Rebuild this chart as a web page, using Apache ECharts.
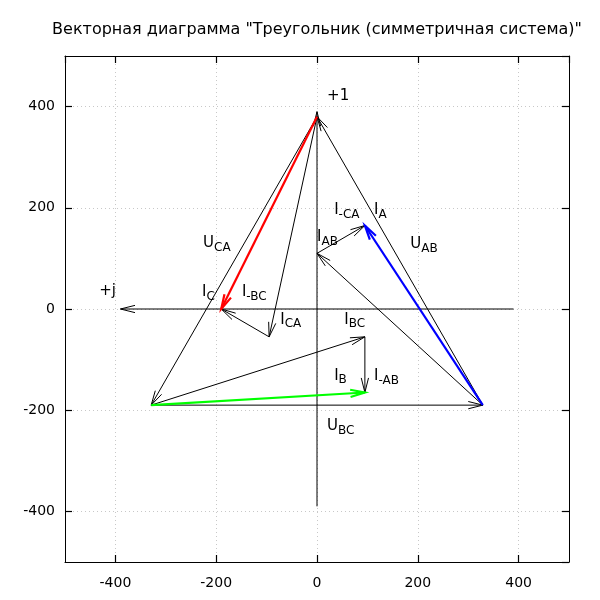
<!DOCTYPE html>
<html>
<head>
<meta charset="utf-8">
<script src="https://cdn.jsdelivr.net/npm/echarts@6/dist/echarts.min.js"></script>
<style>html,body{margin:0;padding:0;background:#fff;}#c{width:600px;height:600px;}</style>
</head>
<body>
<div id="c"></div>
<script>
// Vectors: name, start (x,y), end (x,y)
const vecNames  = ['+1',  '+j',  'U_AB', 'U_CA', 'U_BC', 'I_AB', 'I_-CA', 'I_A', 'I_CA', 'I_-BC', 'I_C', 'I_BC', 'I_-AB', 'I_B'];
const vecStartX = [0,     390,   329,    0,      -329,   329,    0,       329,   0,      -95,     0,     -329,   95,      -329];
const vecStartY = [-390,  0,     -190,   380,    -190,   -190,   110,     -190,  380,    -55,     380,   -190,   -55,     -190];
const vecEndX   = [0,     -390,  0,      -329,   329,    0,      95,      95,    -95,    -190,    -190,  95,     95,      95];
const vecEndY   = [390,   0,     380,    -190,   -190,   110,    165,     165,   -55,    0,       0,     -55,    -165,    -165];

// Labels: main letter, subscript, anchor (x,y)
const labelMain = ['+1', '+j', 'U',  'U',  'U',  'I',  'I',   'I',  'I',  'I',   'I',  'I',  'I',   'I'];
const labelSub  = ['',   '',   'AB', 'CA', 'BC', 'AB', '-CA', 'A',  'CA', '-BC', 'C',  'BC', '-AB', 'B'];
const labelX    = [20,   -432, 185,  -226, 20,   0,    34,    113,  -73,  -149,  -228, 54,   113,   34];
const labelY    = [421,  35,   128,  130,  -232, 142,  195,   195,  -21,  33,    33,   -21,  -133,  -132];

const tickValues = [-400, -200, 0, 200, 400];

const colorMap = { 'I_A': '#0000ff', 'I_B': '#00ff00', 'I_C': '#ff0000' };

const vecData = vecNames.map((n, i) => [vecStartX[i], vecStartY[i], vecEndX[i], vecEndY[i], n]);
const labelData = labelMain.map((m, i) => [labelX[i], labelY[i], m, labelSub[i]]);

const FONT = 'DejaVu Sans';

function renderArrow(params, api) {
  const p1 = api.coord([api.value(0), api.value(1)]);
  const p2 = api.coord([api.value(2), api.value(3)]);
  const name = vecData[params.dataIndex][4];
  const color = colorMap[name] || '#000';
  const lw = colorMap[name] ? 2.2 : 1;
  const a = Math.atan2(p2[1] - p1[1], p2[0] - p1[0]);
  const L = 15, th = 14 * Math.PI / 180;
  const h1 = [p2[0] - L * Math.cos(a - th), p2[1] - L * Math.sin(a - th)];
  const h2 = [p2[0] - L * Math.cos(a + th), p2[1] - L * Math.sin(a + th)];
  return {
    type: 'group',
    children: [
      { type: 'line', shape: { x1: p1[0], y1: p1[1], x2: p2[0], y2: p2[1] },
        style: { stroke: color, lineWidth: lw } },
      { type: 'polyline', shape: { points: [h1, p2, h2] },
        style: { stroke: color, lineWidth: lw, fill: null } }
    ]
  };
}

function renderLabel(params, api) {
  const p = api.coord([api.value(0), api.value(1)]);
  const d = labelData[params.dataIndex];
  const txt = d[3] ? '{m|' + d[2] + '}{s|' + d[3] + '}' : '{m|' + d[2] + '}';
  return {
    type: 'text',
    x: p[0], y: p[1],
    style: {
      text: txt,
      align: 'left',
      verticalAlign: 'middle',
      rich: {
        m: { fontSize: 15, fontFamily: FONT, fill: '#000' },
        s: { fontSize: 12, fontFamily: FONT, fill: '#000', padding: [9, 0, 0, 0] }
      }
    }
  };
}

const commonAxis = {
  type: 'value', min: -500, max: 500, splitNumber: 5,
  axisLine: { show: true, onZero: false, lineStyle: { color: '#000', width: 1 } },
  axisTick: { show: true, inside: true, length: 7, lineStyle: { color: '#000', width: 1.2 } }
};
const fmt = v => (tickValues.indexOf(v) >= 0 ? String(v) : '');

const chart = echarts.init(document.getElementById('c'), null, { renderer: 'canvas' });
chart.setOption({
  animation: false,
  backgroundColor: '#fff',
  title: {
    text: 'Векторная диаграмма "Треугольник (симметричная система)"',
    left: 317, top: 22, textAlign: 'center', padding: 0,
    textStyle: { fontFamily: FONT, fontSize: 16, fontWeight: 'normal', color: '#000' }
  },
  grid: { left: 65, right: 31, top: 56, bottom: 38, containLabel: false },
  xAxis: [
    Object.assign({}, commonAxis, {
      position: 'bottom',
      axisLabel: { color: '#000', fontSize: 14, fontFamily: FONT, margin: 14, formatter: fmt, showMinLabel: false, showMaxLabel: false },
      splitLine: { show: true, lineStyle: { color: '#c8c8c8', type: [1, 3], width: 1 } }
    }),
    Object.assign({}, commonAxis, {
      position: 'top',
      axisLabel: { show: false },
      splitLine: { show: false }
    })
  ],
  yAxis: [
    Object.assign({}, commonAxis, {
      position: 'left',
      axisLabel: { color: '#000', fontSize: 14, fontFamily: FONT, margin: 10, formatter: fmt, showMinLabel: false, showMaxLabel: false },
      splitLine: { show: true, lineStyle: { color: '#c8c8c8', type: [1, 3], width: 1 } }
    }),
    Object.assign({}, commonAxis, {
      position: 'right',
      axisLabel: { show: false },
      splitLine: { show: false }
    })
  ],
  series: [
    {
      type: 'custom', xAxisIndex: 0, yAxisIndex: 0,
      renderItem: renderArrow,
      encode: { x: [0, 2], y: [1, 3] },
      data: vecData.map(d => d.slice(0, 4)),
      clip: false, silent: true
    },
    {
      type: 'custom', xAxisIndex: 0, yAxisIndex: 0,
      renderItem: renderLabel,
      encode: { x: 0, y: 1 },
      data: labelData.map(d => [d[0], d[1]]),
      clip: false, silent: true
    }
  ]
});
</script>
</body>
</html>
